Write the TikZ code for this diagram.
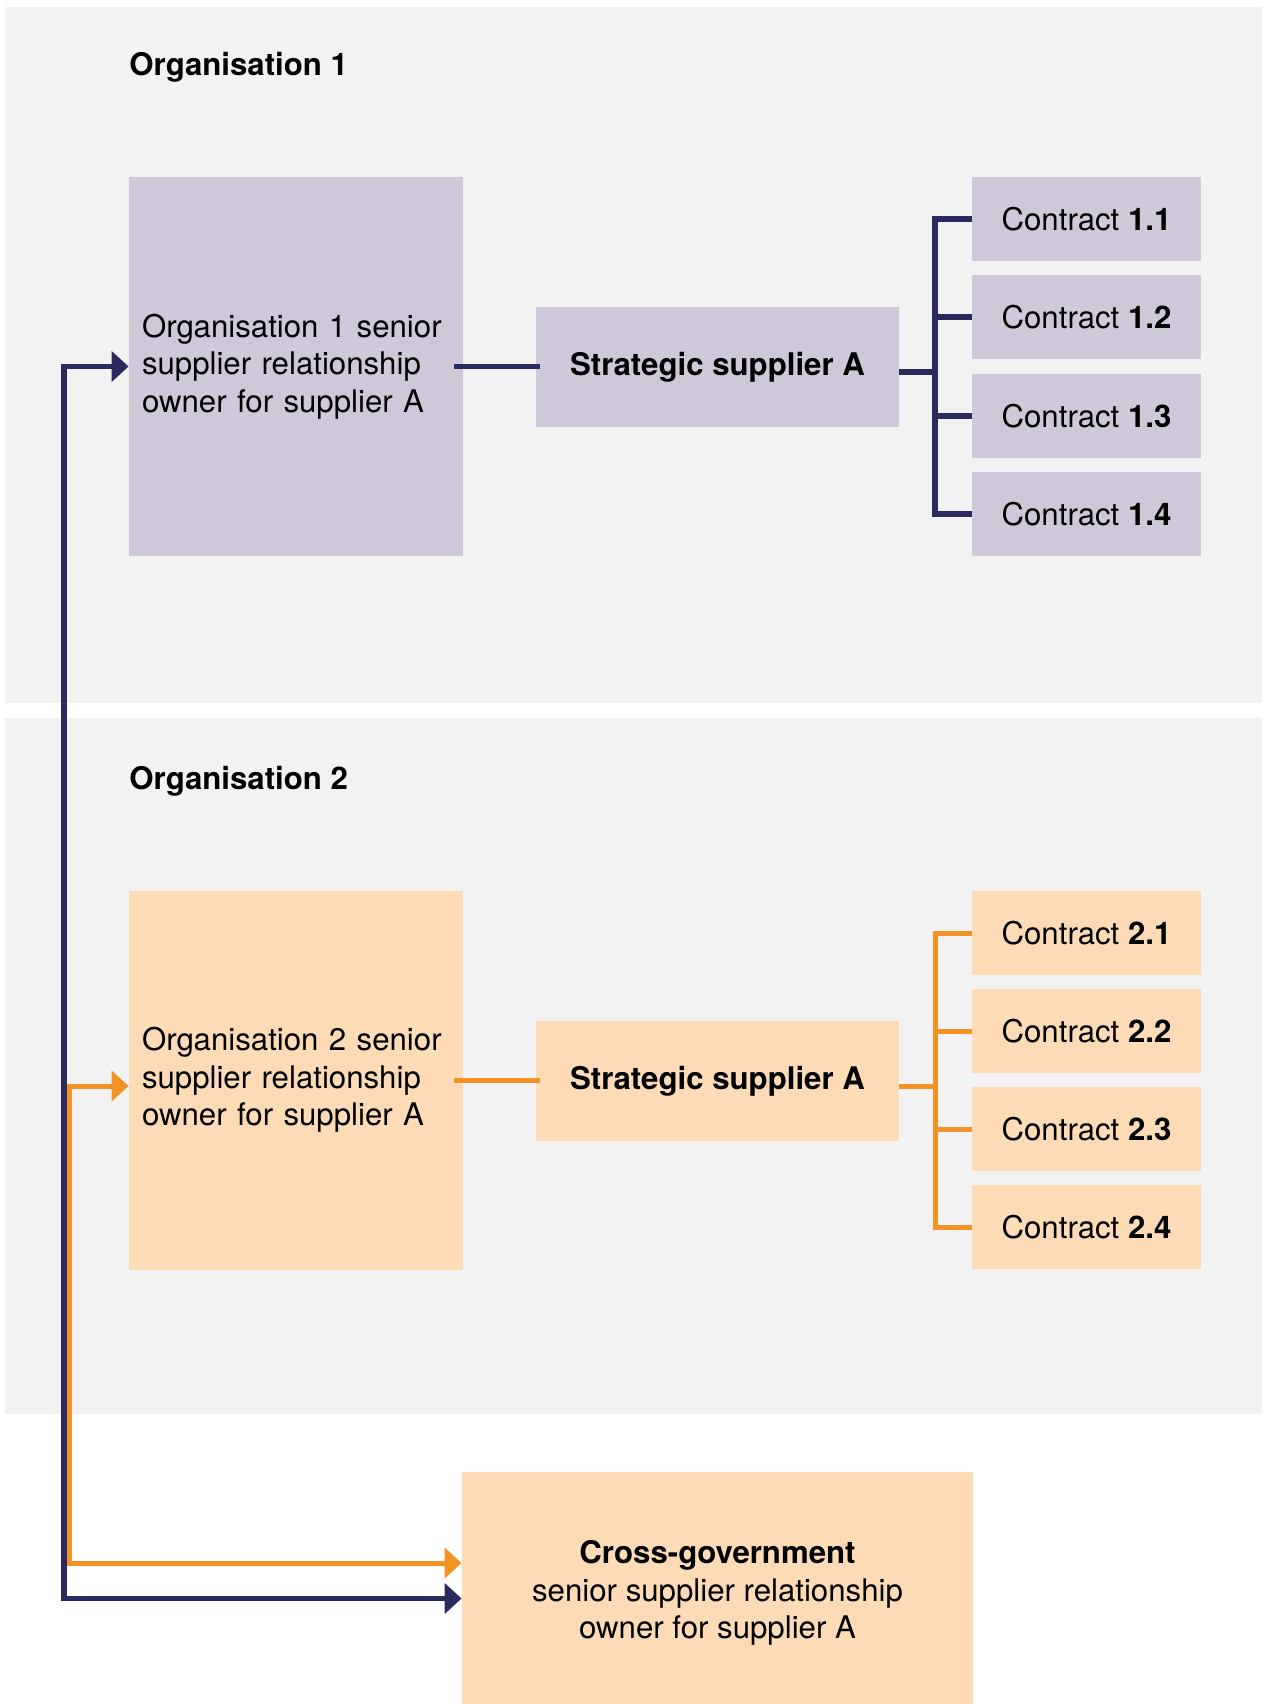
\documentclass[tikz,border=0pt]{standalone}
\usepackage{fontspec}
\setmainfont{TeX Gyre Heros}
\usetikzlibrary{arrows.meta}

\definecolor{panelgrey}{HTML}{F2F2F2}
\definecolor{lavender}{HTML}{CFC8D9}
\definecolor{peach}{HTML}{FCDBB6}
\definecolor{navy}{HTML}{2A2A5E}
\definecolor{amber}{HTML}{F39325}

\begin{document}
\begin{tikzpicture}[x=0.5pt,y=-0.5pt,
  txt/.style={font=\fontsize{15.6}{18.75}\selectfont},
  heading/.style={anchor=base west,inner sep=0pt,font=\fontsize{15.6}{18.75}\selectfont\bfseries},
  ownerbox/.style={inner xsep=6.5pt,inner ysep=0pt,text width=154pt,align=left,
    minimum height=189.5pt,txt},
  supbox/.style={minimum width=181.5pt,minimum height=60pt,inner sep=0pt,
    font=\fontsize{15.6}{18.75}\selectfont\bfseries},
  conbox/.style={minimum width=114.5pt,minimum height=42pt,inner sep=0pt,txt},
  cgbox/.style={minimum width=255.5pt,minimum height=121pt,inner sep=0pt,align=center,txt},
  navyline/.style={draw=navy,line width=2.8pt},
  amberline/.style={draw=amber,line width=2.5pt},
  bothtips/.style={{Triangle[length=8.5pt,width=15pt]}-{Triangle[length=8.5pt,width=15pt]}}
]
\useasboundingbox (0,0) rectangle (1264,1704);
\fill[white] (0,0) rectangle (1264,1704);

% two organisation panels
\fill[panelgrey] (5,7) rectangle (1262,703);
\fill[panelgrey] (5,718) rectangle (1262,1414);

\node[heading] (org1) at (129,75) {Organisation 1};
\node[heading] (org2) at (129,789) {Organisation 2};

% Organisation 1
\node[ownerbox,fill=lavender] (b1) at (296,366.5)
  {Organisation 1 senior\\supplier relationship\\owner for supplier A};
\node[supbox,fill=lavender] (s1) at (717.5,367) {Strategic supplier A};
\node[conbox,fill=lavender] (c11) at (1086.5,219) {Contract \textbf{1.1}};
\node[conbox,fill=lavender] (c12) at (1086.5,317) {Contract \textbf{1.2}};
\node[conbox,fill=lavender] (c13) at (1086.5,416) {Contract \textbf{1.3}};
\node[conbox,fill=lavender] (c14) at (1086.5,514) {Contract \textbf{1.4}};

% Organisation 2
\node[ownerbox,fill=peach] (b2) at (296,1080)
  {Organisation 2 senior\\supplier relationship\\owner for supplier A};
\node[supbox,fill=peach] (s2) at (717.5,1081) {Strategic supplier A};
\node[conbox,fill=peach] (c21) at (1086.5,933) {Contract \textbf{2.1}};
\node[conbox,fill=peach] (c22) at (1086.5,1031) {Contract \textbf{2.2}};
\node[conbox,fill=peach] (c23) at (1086.5,1129) {Contract \textbf{2.3}};
\node[conbox,fill=peach] (c24) at (1086.5,1227) {Contract \textbf{2.4}};

% cross-government owner (runs off the bottom edge)
\node[cgbox,fill=peach] (cg) at (717.5,1593)
  {\textbf{Cross-government}\\senior supplier relationship\\owner for supplier A};

% trunk and branch positions
\coordinate (bx1) at (935,0);
\coordinate (bx2) at (935,0);
\coordinate (trunkN) at (64,0);
\coordinate (trunkO) at (69,0);

% owner to supplier
\draw[navyline] ([xshift=-4.5pt]b1.east) -- ([xshift=2pt]b1.east -| s1.west);
\draw[amberline] ([xshift=-4.5pt]b2.east) -- ([xshift=2pt]b2.east -| s2.west);

% supplier to contracts
\draw[navyline] ([yshift=-2.5pt]s1.east) -- ([yshift=-2.5pt]s1.east -| bx1);
\draw[navyline] (c11.west) -- (c11.west -| bx1) -- (c14.west -| bx1) -- (c14.west);
\draw[navyline] (c12.west -| bx1) -- (c12.west);
\draw[navyline] (c13.west -| bx1) -- (c13.west);

\draw[amberline] ([yshift=-2.5pt]s2.east) -- ([yshift=-2.5pt]s2.east -| bx2);
\draw[amberline] (c21.west) -- (c21.west -| bx2) -- (c24.west -| bx2) -- (c24.west);
\draw[amberline] (c22.west -| bx2) -- (c22.west);
\draw[amberline] (c23.west -| bx2) -- (c23.west);

% owners linked to the cross-government owner
\draw[navyline,bothtips] (b1.west) -- (b1.west -| trunkN)
  -- ([yshift=-2.75pt]cg.west -| trunkN) -- ([yshift=-2.75pt]cg.west);
\draw[amberline,bothtips] ([yshift=-3pt]b2.west) -- ([yshift=-3pt]b2.west -| trunkO)
  -- ([yshift=15pt]cg.west -| trunkO) -- ([yshift=15pt]cg.west);
\end{tikzpicture}
\end{document}
